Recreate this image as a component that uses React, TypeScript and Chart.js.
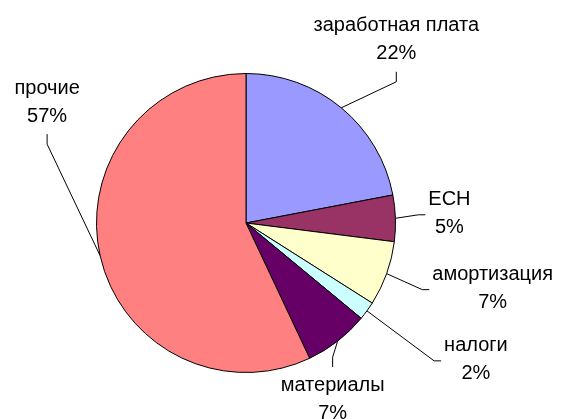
import React, { useEffect, useRef } from 'react';
import { Chart, registerables } from 'chart.js';

Chart.register(...registerables);

const categories = ['заработная плата', 'ЕСН', 'амортизация', 'налоги', 'материалы', 'прочие'];
const shares = [22, 5, 7, 2, 7, 57];
const colors = ['#9999FF', '#993366', '#FFFFCC', '#CCFFFF', '#660066', '#FF8080'];
// label block centre, relative to the point on the rim at the slice's middle angle
const labelOffsets: [number, number][] = [
  [55, -68],
  [54, -4.5],
  [106, 15],
  [109, 49],
  [-5, 58],
  [-53, -153.5],
];

const FONT = '20px "Liberation Sans", Arial, sans-serif';
const LINE = 28;

const labelPlugin = {
  id: 'excelLabels',
  afterDatasetsDraw(chart: any) {
    const ctx: CanvasRenderingContext2D = chart.ctx;
    const meta = chart.getDatasetMeta(0);
    ctx.save();
    ctx.font = FONT;
    meta.data.forEach((arc: any, i: number) => {
      const { x, y, startAngle, endAngle, outerRadius } = arc.getProps(
        ['x', 'y', 'startAngle', 'endAngle', 'outerRadius'],
        true
      );
      const mid = (startAngle + endAngle) / 2;
      const ax = x + Math.cos(mid) * outerRadius;
      const ay = y + Math.sin(mid) * outerRadius;
      const [dx, dy] = labelOffsets[i];
      const cx = ax + dx;
      const cy = ay + dy;
      const l1 = categories[i];
      const l2 = shares[i] + '%';
      const w = Math.max(ctx.measureText(l1).width, ctx.measureText(l2).width);
      let ex: number, ey: number, bx: number, by: number;
      if (Math.abs(dy) > Math.abs(dx)) {
        const s = dy < 0 ? 1 : -1;
        ex = cx;
        ey = cy + s * 32;
        bx = cx;
        by = cy + s * 42;
      } else {
        const s = dx > 0 ? -1 : 1;
        ex = cx + s * (w / 2 + 3);
        ey = cy + 1;
        bx = cx + s * (w / 2 + 10);
        by = ey;
      }
      ctx.strokeStyle = '#000';
      ctx.lineWidth = 1;
      ctx.beginPath();
      ctx.moveTo(ax, ay);
      ctx.lineTo(bx, by);
      ctx.lineTo(ex, ey);
      ctx.stroke();
      ctx.fillStyle = '#000';
      ctx.textAlign = 'center';
      ctx.textBaseline = 'middle';
      ctx.fillText(l1, cx, cy - LINE / 2);
      ctx.fillText(l2, cx, cy + LINE / 2);
    });
    ctx.restore();
  },
};

export default function App() {
  const ref = useRef<HTMLCanvasElement | null>(null);
  useEffect(() => {
    document.body.style.margin = '0';
    const canvas = ref.current;
    if (!canvas) return;
    const chart = new Chart(canvas, {
      type: 'pie',
      data: {
        labels: categories,
        datasets: [
          {
            data: shares,
            backgroundColor: colors,
            borderColor: '#000000',
            borderWidth: 1,
            hoverOffset: 0,
          },
        ],
      },
      options: {
        animation: false,
        responsive: true,
        maintainAspectRatio: false,
        events: [],
        layout: { padding: { left: 96, right: 168, top: 73, bottom: 46 } },
        plugins: {
          legend: { display: false },
          tooltip: { enabled: false },
        },
      },
      plugins: [labelPlugin],
    });
    return () => chart.destroy();
  }, []);
  return (
    <div style={{ width: 564, height: 419, position: 'relative', background: '#fff' }}>
      <canvas ref={ref} />
    </div>
  );
}
